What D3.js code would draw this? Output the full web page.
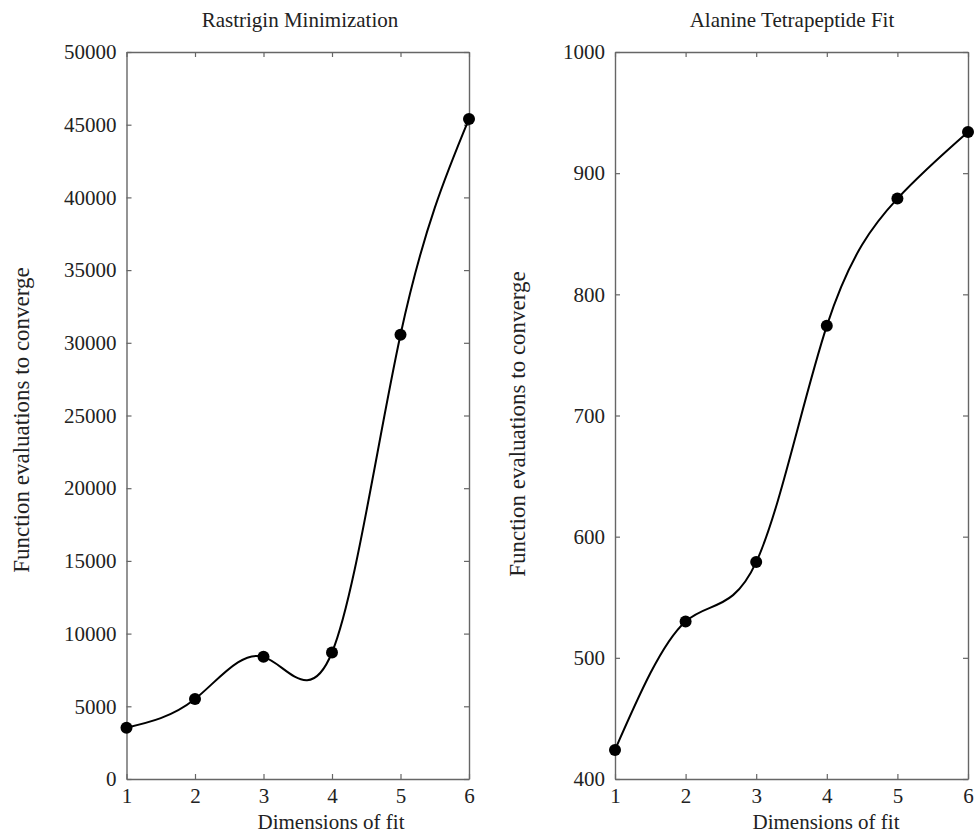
<!DOCTYPE html>
<html>
<head>
<meta charset="utf-8">
<script src="https://cdn.jsdelivr.net/npm/d3@7"></script>
<style>
  body { margin: 0; background: #fff; }
  text { font-family: "Liberation Serif", "Times New Roman", serif; fill: #222; }
</style>
</head>
<body>
<div id="chart"></div>
<script>
// data
var dims = [1, 2, 3, 4, 5, 6];
var rastriginEvals = [3530, 5500, 8400, 8700, 30550, 45400];
var alanineEvals = [424, 530, 579, 774, 879, 934];
var rastriginTicks = [0, 5000, 10000, 15000, 20000, 25000, 30000, 35000, 40000, 45000, 50000];
var alanineTicks = [400, 500, 600, 700, 800, 900, 1000];

var W = 977, H = 834;
var svg = d3.select("#chart").append("svg")
    .attr("width", W)
    .attr("height", H);

var plotTop = 52, plotBottom = 779;
var axisColor = "#666";
var fontSize = 21;

function panel(opts) {
  var x = d3.scaleLinear().domain([1, 6]).range([opts.left, opts.right]);
  var y = d3.scaleLinear().domain(opts.domain).range([plotBottom, plotTop]);
  var g = svg.append("g");

  // bottom axis
  g.append("g")
    .attr("transform", "translate(0," + plotBottom + ")")
    .call(d3.axisBottom(x).tickValues(dims).tickFormat(d3.format("d"))
      .tickSizeInner(-5).tickSizeOuter(0).tickPadding(9));
  // top mirror
  g.append("g")
    .attr("transform", "translate(0," + plotTop + ")")
    .call(d3.axisTop(x).tickValues(dims).tickFormat("")
      .tickSizeInner(-5).tickSizeOuter(0));
  // left axis
  g.append("g")
    .attr("transform", "translate(" + opts.left + ",0)")
    .call(d3.axisLeft(y).tickValues(opts.ticks).tickFormat(d3.format("d"))
      .tickSizeInner(-5).tickSizeOuter(0).tickPadding(10));
  // right mirror
  g.append("g")
    .attr("transform", "translate(" + opts.right + ",0)")
    .call(d3.axisRight(y).tickValues(opts.ticks).tickFormat("")
      .tickSizeInner(-5).tickSizeOuter(0));

  g.selectAll(".domain").attr("stroke", axisColor).attr("stroke-width", 1.4);
  g.selectAll(".tick line").attr("stroke", axisColor).attr("stroke-width", 1.2);
  g.selectAll(".tick text")
    .style("font-family", "'Liberation Serif', serif")
    .style("font-size", fontSize + "px")
    .attr("fill", "#222");

  var pts = dims.map(function(d, i) { return [d, opts.values[i]]; });

  var line = d3.line()
    .x(function(d) { return x(d[0]); })
    .y(function(d) { return y(d[1]); })
    .curve(d3.curveNatural);

  g.append("path")
    .datum(pts)
    .attr("d", line)
    .attr("fill", "none")
    .attr("stroke", "#000")
    .attr("stroke-width", 2);

  g.selectAll("circle")
    .data(pts)
    .enter()
    .append("circle")
      .attr("cx", function(d) { return x(d[0]); })
      .attr("cy", function(d) { return y(d[1]); })
      .attr("r", 6)
      .attr("fill", "#000");

  // title
  g.append("text")
    .attr("x", opts.titleX)
    .attr("y", 27)
    .attr("text-anchor", "middle")
    .style("font-size", fontSize + "px")
    .text(opts.title);

  // x label
  g.append("text")
    .attr("x", opts.xlabelX)
    .attr("y", 829)
    .attr("text-anchor", "middle")
    .style("font-size", "21px")
    .text("Dimensions of fit");

  // y label
  g.append("text")
    .attr("transform", "translate(" + opts.ylabelX + "," + opts.ylabelY + ")rotate(-90)")
    .attr("text-anchor", "middle")
    .style("font-size", "23px")
    .text("Function evaluations to converge");
}

panel({
  left: 126.5, right: 469,
  domain: [0, 50000], ticks: rastriginTicks, values: rastriginEvals,
  title: "Rastrigin Minimization", titleX: 300,
  xlabelX: 331, ylabelX: 29, ylabelY: 420
});

panel({
  left: 615, right: 968,
  domain: [400, 1000], ticks: alanineTicks, values: alanineEvals,
  title: "Alanine Tetrapeptide Fit", titleX: 792,
  xlabelX: 826, ylabelX: 525, ylabelY: 424
});
</script>
</body>
</html>
